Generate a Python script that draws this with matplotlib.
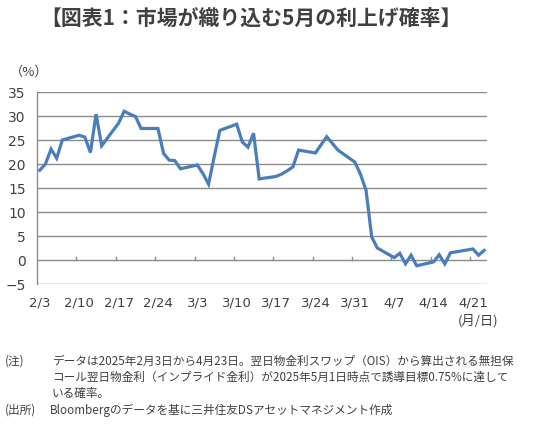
import matplotlib
matplotlib.use('Agg')
import matplotlib.pyplot as plt
import numpy as np
import pandas as pd

# market-implied probability of a May hike (%), one value per weekday 2/3 .. 4/23
dates = pd.bdate_range('2025-02-03', '2025-04-23')
prob_feb = [18.7, 20.0, 23.1, 21.2, 25.0,
            26.0, 25.6, 22.4, 30.4, 23.8,
            28.5, 31.0, 30.4, 29.9, 27.4,
            27.4, 22.2, 20.8, 20.7, 19.0]
prob_mar = [19.8, 18.0, 15.8, 21.5, 27.0,
            28.3, 24.6, 23.5, 26.4, 16.9,
            17.4, 17.9, 18.6, 19.4, 22.9,
            22.3, 24.0, 25.7, 24.3, 22.9,
            20.4]
prob_apr = [17.9, 14.5, 4.8, 2.5,
            0.5, 1.4, -0.8, 1.0, -1.2,
            -0.4, 1.1, -0.8, 1.5, 1.7,
            2.3, 1.0, 2.0]
prob = prob_feb + prob_mar + prob_apr

tick_dates = pd.date_range('2025-02-03', '2025-04-21', freq='7D')
yticks = list(range(-5, 40, 5))

title = '【図表1：市場が織り込む5月の利上げ確率】'
note_lines = [
    'データは2025年2月3日から4月23日。翌日物金利スワップ（OIS）から算出される無担保',
    'コール翌日物金利（インプライド金利）が2025年5月1日時点で誘導目標0.75%に達して',
    'いる確率。',
]
source = 'Bloombergのデータを基に三井住友DSアセットマネジメント作成'

JP = ['Noto Sans CJK JP', 'DejaVu Sans']
TXT = '#404040'
GRID = '#8c8c8c'
LINE = '#4a7ebb'

start = dates[0]
x = np.array([(d - start).days for d in dates])
xt = np.array([(d - start).days for d in tick_dates])

fig = plt.figure(figsize=(5.4, 4.42), dpi=100)
W, H = 540, 442
ax = fig.add_axes([37 / W, 1 - 284 / H, (487 - 37) / W, (284 - 92) / H])

ax.plot(x, prob, color=LINE, lw=2.3, solid_joinstyle='miter', zorder=3)

ax.set_xlim(-0.5, 79.5)
ax.set_ylim(-5, 35)
ax.set_yticks(yticks)
ax.grid(axis='y', color=GRID, lw=1.0)
ax.set_axisbelow(True)
for s in ['top', 'right', 'bottom']:
    ax.spines[s].set_visible(False)
ax.spines['left'].set_color(GRID)
ax.spines['left'].set_linewidth(1.0)
ax.tick_params(axis='y', length=0, pad=8, labelsize=10, labelcolor=TXT)

# labels at day centres, no marks; small marks on the zero line at week boundaries
ax.set_xticks(xt)
ax.set_xticklabels([f'{d.month}/{d.day}' for d in tick_dates])
ax.tick_params(axis='x', length=0, pad=9, labelsize=9.5, labelcolor=TXT)
for b in xt[1:] - 0.5:
    ax.plot([b, b], [0, 0.7], color=GRID, lw=1.0, zorder=2)

fig.text(10 / W, 1 - 72 / H, '（%）', fontsize=9.5, color=TXT, family=JP,
         ha='left', va='center')
fig.text(478 / W, 1 - 321 / H, '(月/日)', fontsize=9.5, color=TXT, family=JP,
         ha='center', va='center')

fig.text(40 / W, 1 - 18 / H, title, fontsize=15, fontweight='bold', color=TXT,
         family=JP, ha='left', va='center')

fs = 8.4
fig.text(5 / W, 1 - 361 / H, '(注)', fontsize=fs, color=TXT, family=JP, va='center')
for i, line in enumerate(note_lines):
    fig.text(52 / W, 1 - (361 + 16.5 * i) / H, line, fontsize=fs, color=TXT,
             family=JP, va='center')
fig.text(5 / W, 1 - 410 / H, '(出所)', fontsize=fs, color=TXT, family=JP, va='center')
fig.text(50 / W, 1 - 410 / H, source, fontsize=fs, color=TXT, family=JP, va='center')

fig.savefig('out.png', dpi=100)
